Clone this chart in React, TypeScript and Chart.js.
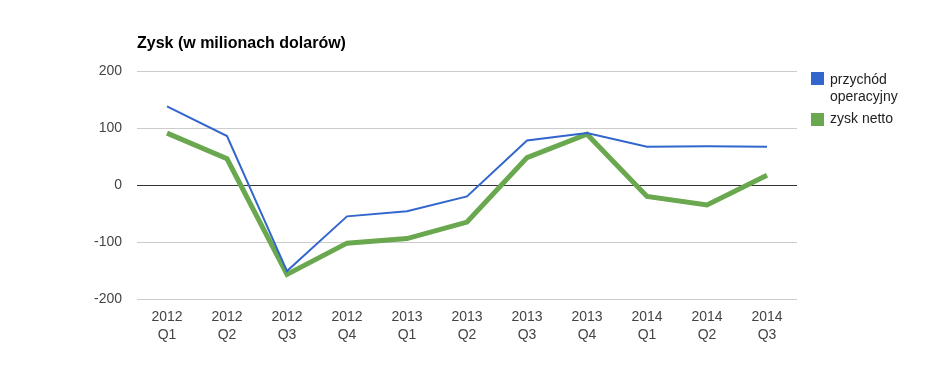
import React, { useEffect, useRef } from "react";
import { Chart, registerables } from "chart.js";

Chart.register(...registerables);

const categories: string[][] = [
  ["2012", "Q1"], ["2012", "Q2"], ["2012", "Q3"], ["2012", "Q4"],
  ["2013", "Q1"], ["2013", "Q2"], ["2013", "Q3"], ["2013", "Q4"],
  ["2014", "Q1"], ["2014", "Q2"], ["2014", "Q3"],
];
const operatingIncome: number[] = [138, 86, -151, -55, -46, -20, 78, 91, 67, 68, 67];
const netIncome: number[] = [91, 46, -157, -102, -94, -65, 48, 89, -20, -35, 17];
const yTicks: number[] = [-200, -100, 0, 100, 200];

const titleText = "Zysk (w milionach dolarów)";
const seriesNames = ["przychód operacyjny", "zysk netto"];
const blue = "#3366cc";
const green = "#6aa84f";

export default function App() {
  const ref = useRef<HTMLCanvasElement | null>(null);

  useEffect(() => {
    document.body.style.margin = "0";
    const canvas = ref.current;
    if (!canvas) return;
    const chart = new Chart(canvas, {
      type: "line",
      data: {
        labels: categories,
        datasets: [
          {
            label: seriesNames[0],
            data: operatingIncome,
            borderColor: blue,
            backgroundColor: blue,
            borderWidth: 2,
            pointRadius: 0,
            tension: 0,
          },
          {
            label: seriesNames[1],
            data: netIncome,
            borderColor: green,
            backgroundColor: green,
            borderWidth: 5,
            pointRadius: 0,
            tension: 0,
          },
        ],
      },
      options: {
        responsive: false,
        animation: false,
        layout: { padding: { left: 0, right: 136, top: 71, bottom: 0 } },
        plugins: {
          legend: { display: false },
          title: { display: false },
          tooltip: { enabled: false },
        },
        scales: {
          x: {
            offset: true,
            grid: { display: false, drawTicks: false },
            border: { display: false },
            ticks: {
              color: "#444",
              font: { family: "Arial, 'Liberation Sans', sans-serif", size: 14, lineHeight: 18 / 14 },
              padding: 9,
              maxRotation: 0,
              autoSkip: false,
            },
            afterFit: (scale: any) => {
              scale.height = 72;
            },
          },
          y: {
            min: yTicks[0],
            max: yTicks[yTicks.length - 1],
            afterBuildTicks: (scale: any) => {
              scale.ticks = yTicks.map((v) => ({ value: v }));
            },
            grid: {
              drawTicks: false,
              color: (ctx: any) => (ctx.tick && ctx.tick.value === 0 ? "#333" : "#ccc"),
              lineWidth: 1,
            },
            border: { display: false },
            ticks: {
              color: "#444",
              font: { family: "Arial, 'Liberation Sans', sans-serif", size: 14 },
              padding: 15,
            },
            afterFit: (scale: any) => {
              scale.width = 137;
            },
          },
        },
      },
    });
    return () => chart.destroy();
  }, []);

  const font = "Arial, 'Liberation Sans', sans-serif";
  return (
    <div style={{ position: "relative", width: 933, height: 371, fontFamily: font }}>
      <canvas ref={ref} width={933} height={371} style={{ position: "absolute", left: 0, top: 0 }} />
      <div
        style={{
          position: "absolute",
          left: 137,
          top: 33,
          fontSize: 16,
          lineHeight: "20px",
          fontWeight: "bold",
          color: "#000",
          whiteSpace: "nowrap",
        }}
      >
        {titleText}
      </div>
      <div style={{ position: "absolute", left: 811, top: 72, width: 13, height: 13, background: blue }} />
      <div
        style={{
          position: "absolute",
          left: 830,
          top: 71,
          fontSize: 14,
          lineHeight: "17px",
          color: "#222",
          width: 90,
        }}
      >
        przychód
        <br />
        operacyjny
      </div>
      <div style={{ position: "absolute", left: 811, top: 113, width: 13, height: 13, background: green }} />
      <div
        style={{
          position: "absolute",
          left: 830,
          top: 110,
          fontSize: 14,
          lineHeight: "17px",
          color: "#222",
          whiteSpace: "nowrap",
        }}
      >
        {seriesNames[1]}
      </div>
    </div>
  );
}
